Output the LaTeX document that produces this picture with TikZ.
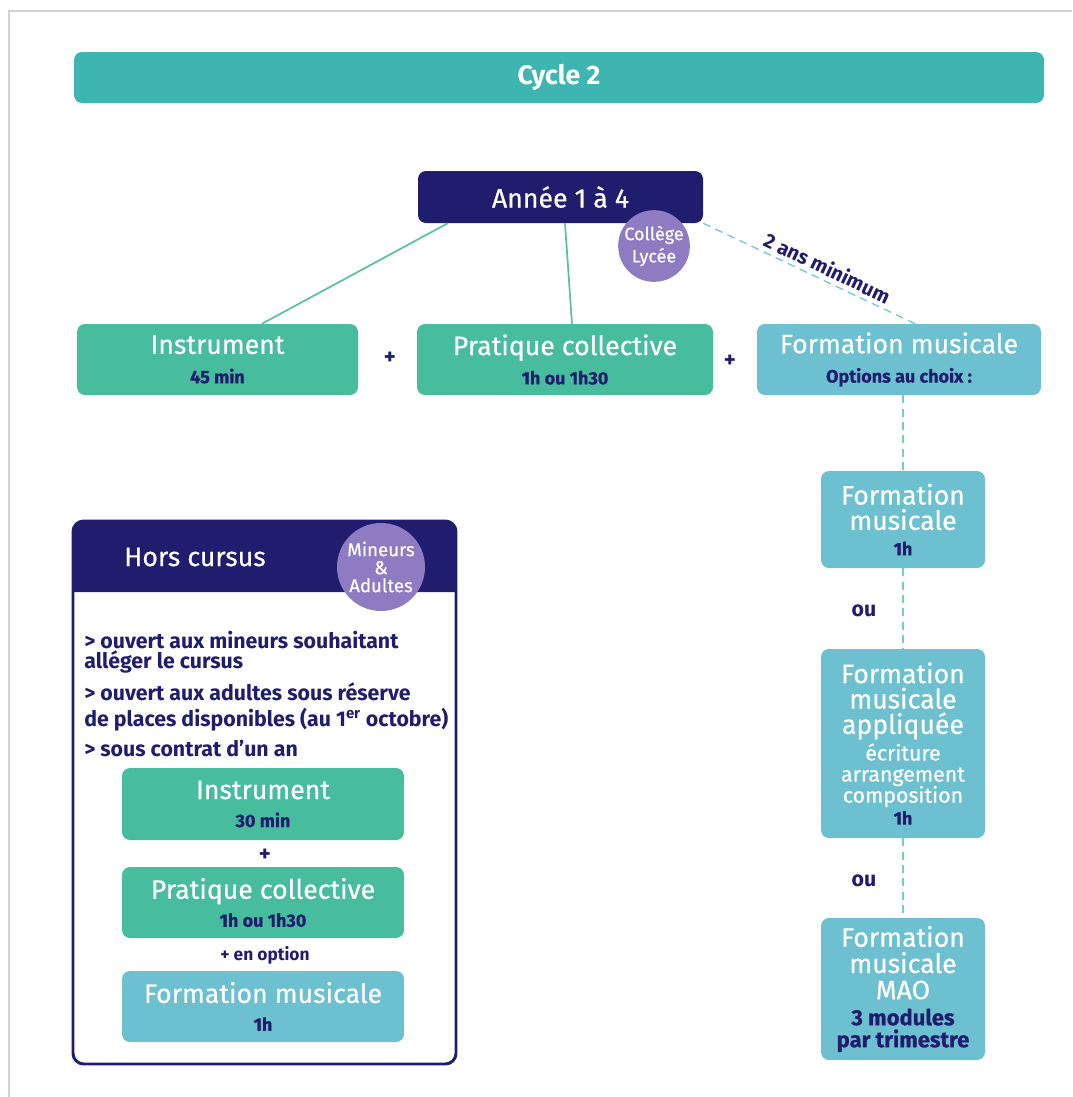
\documentclass[tikz,border=0pt]{standalone}
\usepackage{fontspec}
\setmainfont{Fira Sans}
\newfontfamily\medf[FakeBold=0.5]{Fira Sans}
\usetikzlibrary{calc}
\definecolor{cteal}{HTML}{3FB5B2}
\definecolor{cnavy}{HTML}{211D6E}
\definecolor{cgreen}{HTML}{47BD9D}
\definecolor{cblue}{HTML}{6DC0D0}
\definecolor{cpurple}{HTML}{8E7CC3}
\definecolor{cline}{HTML}{5BBFA6}
\definecolor{cdash}{HTML}{7BC6D3}
\newcommand{\subt}[1]{{\fontsize{13.5}{15}\selectfont\bfseries\color{cnavy}#1}}
\newcommand{\subbig}[1]{{\fontsize{16.5}{17}\selectfont\bfseries\color{cnavy}#1}}
\newcommand{\smallw}[1]{{\fontsize{16}{16}\selectfont #1}}
\begin{document}
\begin{tikzpicture}[x=0.75pt,y=-0.75pt,
  wh/.style 2 args={minimum width=#1*0.75pt, minimum height=#2*0.75pt},
  rbox/.style={rounded corners=6pt, inner sep=0pt, align=center, text=white, font=\medf\fontsize{20}{19}\selectfont},
  greenbox/.style={rbox, fill=cgreen},
  bluebox/.style={rbox, fill=cblue},
  badge/.style={circle, fill=cpurple, inner sep=0pt, align=center, text=white, font=\medf\fontsize{13.5}{13}\selectfont},
  navytext/.style={text=cnavy, font=\fontsize{16}{17}\selectfont\bfseries, inner sep=0pt},
  plus/.style={text=cnavy, font=\fontsize{17}{17}\selectfont\bfseries, inner sep=0pt},
  solidline/.style={draw=cline, line width=1.3pt},
  dashline/.style={draw=cdash, line width=1pt, dash pattern=on 6pt off 4pt}]
\useasboundingbox (0,0) rectangle (1072,1097);
\draw[black!18, line width=1pt] (9,1097) -- (9,11) -- (1072,11);

% top bar
\node[rbox, fill=cteal, wh={970}{51}, font=\fontsize{20}{20}\selectfont\bfseries] (cycle) at (559,77.5) {Cycle 2};

% year box
\node[rbox, fill=cnavy, wh={285}{52}] (annee) at (560.5,197) {Année 1 à 4};

% first row
\node[greenbox, wh={281}{71}] (instr) at (217.5,359.5) {Instrument\\[3pt]\subt{45 min}};
\node[greenbox, wh={296}{71}] (prat) at (565,359.5) {Pratique collective\\[3pt]\subt{1h ou 1h30}};
\node[bluebox, wh={284}{71}] (form) at (899,359.5) {Formation musicale\\[3pt]\subt{Options au choix :}};
\node[plus] (p1) at (390,358) {+};
\node[plus] (p2) at (730,361) {+};

% connectors
\draw[solidline] ($(annee.south west)+(30,0)$) -- ($(instr.north)+(44.5,0)$);
\draw[solidline] ($(annee.south)+(4.5,0)$) -- ($(prat.north)+(7,0)$);
\draw[dashline] (annee.south east) -- ($(form.north)+(16,0)$)
  node[pos=0.56, sloped, above=3pt, navytext, font=\fontsize{15}{16}\selectfont\bfseries] (mini) {2 ans minimum};

\node[badge, minimum size=52pt] (college) at (654,246) {Collège\\[2pt]Lycée};

% right column
\node[bluebox, wh={164}{97}] (fm1) at (903,519.5) {Formation\\musicale\\[0pt]\subt{1h}};
\node[bluebox, wh={164}{189}] (fma) at (903,743.5) {Formation\\musicale\\appliquée\\[1pt]\smallw{écriture}\\[-3.2pt]\smallw{arrangement}\\[-3.2pt]\smallw{composition}\\[-2.5pt]\subt{1h}};
\node[bluebox, wh={164}{142}] (fmm) at (903,989) {Formation\\[0.7pt]musicale\\[0.7pt]MAO\\[0.5pt]\subbig{3 modules}\\[-2.5pt]\subbig{par trimestre}};
\draw[dashline] (form.south -| fm1.north) -- (fm1.north);
\draw[dashline] (fm1.south) -- (fma.north);
\draw[dashline] (fma.south) -- (fmm.north);
\node[navytext] (ou1) at (864,611) {ou};
\node[navytext] (ou2) at (864,881) {ou};

% hors cursus panel
\fill[cnavy] (73,592) [rounded corners=8pt] -- (73,521) -- (456,521) [sharp corners] -- (456,592) -- cycle;
\node[draw=cnavy, line width=2.2pt, rounded corners=8pt, wh={383}{543}, inner sep=0pt] (hors) at (264.5,792.5) {};
\node[text=white, font=\medf\fontsize{20}{22}\selectfont, inner sep=0pt] (htitle) at (195,557) {Hors cursus};
\node[badge, minimum size=66pt, font=\medf\fontsize{14}{13}\selectfont] (mineurs) at (381,567) {Mineurs\\[0.5pt]\&\\[0.5pt]Adultes};

\node[navytext, anchor=west] (b1) at (84,640) {> ouvert aux mineurs souhaitant};
\node[navytext, anchor=west] (b2) at (84,662) {alléger le cursus};
\node[navytext, anchor=west] (b3) at (84,692) {> ouvert aux adultes sous réserve};
\node[navytext, anchor=west] (b4) at (84,720) {de places disponibles (au 1\textsuperscript{er} octobre)};
\node[navytext, anchor=west] (b5) at (84,748) {> sous contrat d’un an};

\node[greenbox, wh={282}{72}] (hinstr) at (263,804) {Instrument\\[2pt]\subt{30 min}};
\node[plus] (p3) at (265,855) {+};
\node[greenbox, wh={282}{71}] (hprat) at (263,902.5) {Pratique collective\\[2pt]\subt{1h ou 1h30}};
\node[plus, font=\fontsize{13}{14}\selectfont\bfseries] (opt) at (265,955) {+ en option};
\node[bluebox, wh={282}{71}] (hfm) at (263,1006.5) {Formation musicale\\[2pt]\subt{1h}};
\end{tikzpicture}
\end{document}
